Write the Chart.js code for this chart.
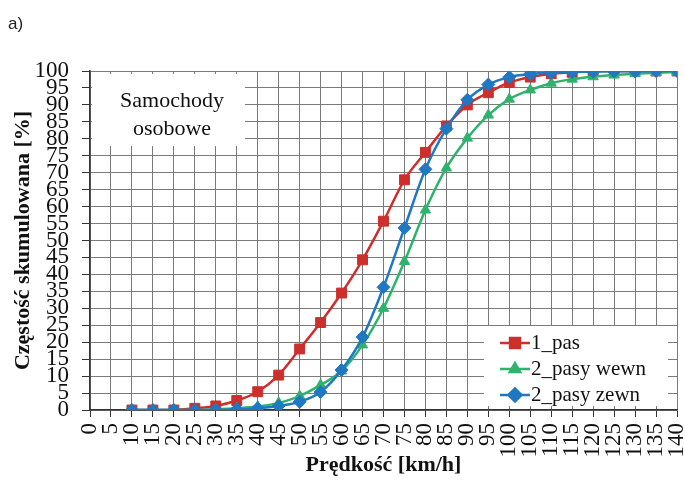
<!DOCTYPE html>
<html>
<head>
<meta charset="utf-8">
<script src="https://cdn.jsdelivr.net/npm/chart.js@4/dist/chart.umd.min.js"></script>
<style>
  html, body { margin: 0; padding: 0; background: #fff; }
  #wrap { width: 685px; height: 480px; position: relative; }
</style>
</head>
<body>
<div id="wrap"><canvas id="chart" width="685" height="480"></canvas></div>
<script>
// speed categories [km/h]
const speeds = [10, 15, 20, 25, 30, 35, 40, 45, 50, 55, 60, 65, 70, 75, 80, 85, 90, 95, 100, 105, 110, 115, 120, 125, 130, 135, 140];
// cumulative frequency [%]
const pas1 = [0, 0, 0, 0.5, 1.2, 2.8, 5.4, 10.3, 18, 25.8, 34.5, 44.3, 55.7, 67.9, 76, 83.8, 90, 93.6, 96.6, 98.2, 99.2, 99.6, 100, 100, 100, 100, 100];
const pasyWewn = [0, 0, 0, 0, 0.2, 0.5, 1, 2.1, 4.1, 7.4, 11.5, 19.2, 30, 43.8, 59, 71.4, 80.2, 87, 91.7, 94.4, 96.4, 97.6, 98.3, 98.8, 99.2, 99.5, 99.7];
const pasyZewn = [0, 0, 0, 0, 0, 0.2, 0.5, 1.2, 2.4, 5.3, 11.8, 21.5, 36.2, 53.7, 71, 83, 91.5, 96, 98.2, 99.1, 99.5, 99.7, 99.8, 99.9, 99.9, 100, 100];
const seriesNames = ['1_pas', '2_pasy wewn', '2_pasy zewn'];
const seriesColors = ['#cc2f2c', '#2fb36c', '#2077c2'];
const seriesMarkers = ['rect', 'triangle', 'rectRot'];

const serif = '"Liberation Serif", "Times New Roman", serif';

function pts(arr) {
  return speeds.map((s, i) => ({ x: s, y: arr[i] }));
}

function makeSet(i, arr, order, radius) {
  return {
    label: seriesNames[i],
    data: pts(arr),
    borderColor: seriesColors[i],
    backgroundColor: seriesColors[i],
    borderWidth: 2.5,
    pointStyle: seriesMarkers[i],
    pointRadius: radius,
    pointBorderWidth: 1,
    cubicInterpolationMode: 'monotone',
    order: order
  };
}

// white boxes: label in the top-left and legend in the lower right
const overlay = {
  id: 'overlay',
  afterDatasetsDraw(chart) {
    const ctx = chart.ctx;
    ctx.save();
    ctx.fillStyle = '#fff';
    ctx.fillRect(92, 74, 153, 72);
    ctx.fillStyle = '#111';
    ctx.font = '22px ' + serif;
    ctx.textAlign = 'center';
    ctx.textBaseline = 'middle';
    ctx.fillText('Samochody', 172, 101);
    ctx.fillText('osobowe', 172, 129);

    ctx.fillStyle = '#fff';
    ctx.fillRect(484, 326, 184, 80);
    const rows = [343, 369, 395];
    chart.data.datasets.forEach((ds, i) => {
      const y = rows[i];
      ctx.strokeStyle = ds.borderColor;
      ctx.lineWidth = 2.5;
      ctx.beginPath();
      ctx.moveTo(500, y);
      ctx.lineTo(530, y);
      ctx.stroke();
      ctx.fillStyle = ds.backgroundColor;
      Chart.helpers.drawPoint(ctx, { pointStyle: ds.pointStyle, radius: ds.pointRadius, borderWidth: 1, rotation: 0 }, 515, y);
      ctx.fillStyle = '#111';
      ctx.font = '21px ' + serif;
      ctx.textAlign = 'left';
      ctx.textBaseline = 'middle';
      ctx.fillText(ds.label, 531, y);
    });

    ctx.fillStyle = '#222';
    ctx.font = '17px "Liberation Sans", Arial, sans-serif';
    ctx.textAlign = 'left';
    ctx.textBaseline = 'alphabetic';
    ctx.fillText('a)', 8, 29);
    ctx.restore();
  }
};

new Chart(document.getElementById('chart'), {
  type: 'line',
  data: {
    datasets: [
      makeSet(0, pas1, 3, 7),
      makeSet(1, pasyWewn, 2, 6),
      makeSet(2, pasyZewn, 1, 6.5)
    ]
  },
  options: {
    responsive: false,
    animation: false,
    layout: { padding: { top: 71, right: 7, left: 0, bottom: 0 } },
    plugins: {
      legend: { display: false },
      tooltip: { enabled: false }
    },
    scales: {
      x: {
        type: 'linear',
        min: 0,
        max: 140,
        afterFit(s) {
          s.height = 70;
          s.paddingLeft = 0;
          s.paddingRight = 0;
        },
        ticks: {
          stepSize: 5,
          autoSkip: false,
          minRotation: 90,
          maxRotation: 90,
          padding: 6,
          color: '#111',
          font: { family: serif, size: 23 }
        },
        grid: { color: '#7a7a7a', lineWidth: 1, tickLength: 7, tickColor: '#333' },
        border: { color: '#333', width: 1.5 },
        title: {
          display: true,
          text: 'Prędkość [km/h]',
          color: '#111',
          font: { family: serif, size: 22, weight: 'bold' },
          padding: { top: 0, bottom: 1 }
        }
      },
      y: {
        min: 0,
        max: 100,
        afterFit(s) {
          s.width = 90;
          s.paddingTop = 0;
          s.paddingBottom = 0;
        },
        ticks: {
          stepSize: 5,
          autoSkip: false,
          padding: 13,
          color: '#111',
          font: { family: serif, size: 23 }
        },
        grid: { color: '#7a7a7a', lineWidth: 1, tickLength: 8, tickColor: '#333' },
        border: { color: '#333', width: 1.5 },
        title: {
          display: true,
          text: 'Częstość skumulowana [%]',
          color: '#111',
          font: { family: serif, size: 22, weight: 'bold' },
          padding: { top: 10, bottom: 0 }
        }
      }
    }
  },
  plugins: [overlay]
});
</script>
</body>
</html>
